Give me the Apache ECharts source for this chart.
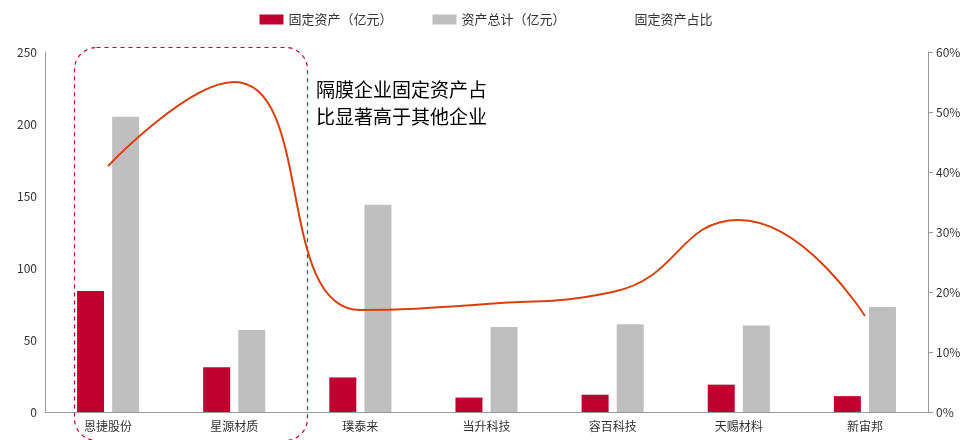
<!DOCTYPE html>
<html><head><meta charset="utf-8">
<script src="https://cdn.jsdelivr.net/npm/echarts@6/dist/echarts.min.js"></script>
<style>html,body{margin:0;background:#fff}#c{width:972px;height:440px}</style>
</head><body><div id="c"></div>
<script>
const categories = ['恩捷股份', '星源材质', '璞泰来', '当升科技', '容百科技', '天赐材料', '新宙邦']
const fixedAssets = [84, 31, 24, 10, 12, 19, 11]
const totalAssets = [205, 57, 144, 59, 61, 60, 73]
const fixedRatio = [41, 55, 17, 18, 20, 32, 16]

const chart = echarts.init(document.getElementById('c'))
const font = '"Noto Sans CJK SC", sans-serif'
const option = {
  animation: false,
  textStyle: { fontFamily: font },
  legend: {
    top: 8,
    itemWidth: 24, itemHeight: 10, itemGap: 40,
    textStyle: { fontSize: 13, color: '#333' },
    data: [
      { name: '固定资产（亿元）', icon: 'rect' },
      { name: '资产总计（亿元）', icon: 'rect' },
      { name: '固定资产占比', icon: 'path://M0,4L24,4L24,6L0,6Z' }
    ]
  },
  grid: { left: 45, right: 44, top: 52, bottom: 28 },
  xAxis: {
    type: 'category',
    data: categories,
    axisTick: { show: false },
    axisLine: { lineStyle: { color: '#999' } },
    axisLabel: { color: '#333', fontSize: 12 }
  },
  yAxis: [
    {
      type: 'value', min: 0, max: 250, interval: 50,
      splitLine: { show: false },
      axisLine: { show: true, lineStyle: { color: '#999' } },
      axisLabel: { color: '#333', fontSize: 12 }
    },
    {
      type: 'value', min: 0, max: 60, interval: 10,
      splitLine: { show: false },
      axisLine: { show: true, lineStyle: { color: '#999' } },
      axisTick: { show: true },
      axisLabel: { color: '#333', fontSize: 12, formatter: '{value}%' }
    }
  ],
  series: [
    {
      name: '固定资产（亿元）', type: 'bar', data: fixedAssets,
      barWidth: 27, barGap: '30%', itemStyle: { color: '#C0002F' }
    },
    {
      name: '资产总计（亿元）', type: 'bar', data: totalAssets,
      barWidth: 27, itemStyle: { color: '#BFBFBF' }
    },
    {
      name: '固定资产占比', type: 'line', yAxisIndex: 1, data: fixedRatio,
      smooth: true, symbol: 'circle', symbolSize: 1, showSymbol: true,
      lineStyle: { color: '#D9400F', width: 2 }, itemStyle: { color: '#D9400F', opacity: 0 },
      label: { show: true, position: 'top', distance: 8, formatter: '{c}%', color: '#333', fontSize: 12 }
    }
  ],
  graphic: [
    {
      type: 'rect', left: 72, top: 45,
      shape: { width: 233, height: 393, r: 22 },
      style: { fill: 'none', stroke: '#C0002F', lineWidth: 1.2, lineDash: [4, 4] }
    },
    {
      type: 'text', left: 316, top: 76,
      style: { text: '隔膜企业固定资产占\n比显著高于其他企业', font: '19px "Noto Sans CJK SC"', lineHeight: 27, fill: '#000' }
    }
  ]
}
chart.setOption(option)
</script></body></html>
